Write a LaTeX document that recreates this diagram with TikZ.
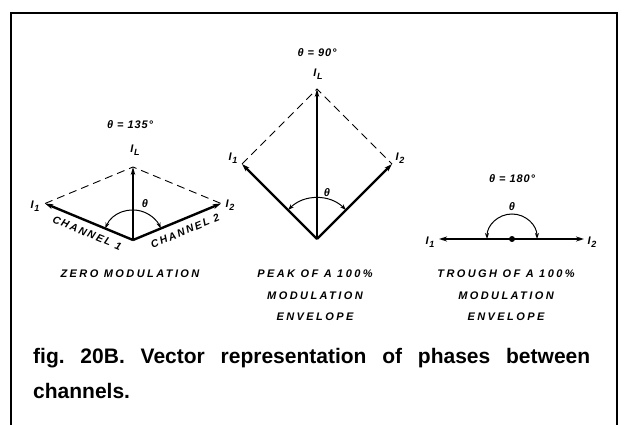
\documentclass[tikz,border=0pt]{standalone}
\usepackage{fontspec}
\setmainfont{Liberation Sans}
\newfontfamily\lett[LetterSpace=8]{Liberation Sans}
\newfontfamily\lettwide[LetterSpace=18]{Liberation Sans}
\newfontfamily\lettcap[LetterSpace=22]{Liberation Sans}
\usetikzlibrary{arrows.meta,calc}
\newcommand\Isub[1]{\textit{I}\kern0.6pt\raisebox{-3pt}{\fontsize{9}{9}\selectfont\textit{#1}}}
\begin{document}
\frenchspacing
\begin{tikzpicture}[x=1pt,y=-1pt,
  vec/.style={line width=2.4pt,-{Stealth[length=8pt,width=5pt]}},
  res/.style={line width=1.2pt,-{Stealth[length=8pt,width=4.5pt]}},
  par/.style={line width=0.9pt,dash pattern=on 8pt off 5pt},
  ang/.style={line width=1pt,{Stealth[length=6pt,width=4pt]}-{Stealth[length=6pt,width=4pt]}},
  lab/.style={font=\lett\bfseries\itshape\fontsize{11}{11}\selectfont, inner sep=0pt},
  chan/.style={font=\lettwide\bfseries\itshape\fontsize{10.5}{10.5}\selectfont, inner sep=0pt},
  captxt/.style={font=\lettcap\bfseries\itshape\fontsize{11}{21.5}\selectfont, align=center, inner sep=0pt},
  dotmark/.style={circle,fill=black,inner sep=0pt,minimum size=6pt},
]
\useasboundingbox (0,0) rectangle (626,425);
% frame
\draw[line width=1.3pt] (11,425) -- (11,13) -- (617,13) -- (617,425);

% ---------- diagram 1: theta = 135 ----------
\coordinate (o1) at (133,240);
\coordinate (a1) at (45,203.5);
\coordinate (b1) at (221,203.5);
\coordinate (l1) at (133,167);
\draw[par] (a1) -- (l1) -- (b1);
\draw[vec] (o1) -- (a1);
\draw[vec] (o1) -- (b1);
\draw[res] (o1) -- (l1);
\draw[ang] ($(o1)+(157.5:30pt)$) arc[start angle=157.5,end angle=22.5,radius=30pt];
\node[lab] (t1) at (130,125) {θ = 135°};
\node[lab] (il1) at (135,150) {\Isub{L}};
\node[lab] (i11) at (35,206) {\Isub{1}};
\node[lab] (i21) at (230,205) {\Isub{2}};
\node[lab] (th1) at (145,204) {θ};
\node[chan,rotate=-22.5] (ch1) at (87,233) {CHANNEL 1};
\node[chan,rotate=22.5] (ch2) at (185,231) {CHANNEL 2};
\node[captxt,anchor=north] (c1) at (130,270) {ZERO MODULATION};

% ---------- diagram 2: theta = 90 ----------
\coordinate (o2) at (317,239);
\coordinate (a2) at (242,164);
\coordinate (b2) at (392,164);
\coordinate (l2) at (317,89);
\draw[par] (a2) -- (l2) -- (b2);
\draw[vec] (o2) -- (a2);
\draw[vec] (o2) -- (b2);
\draw[res] (o2) -- (l2);
\draw[ang] ($(o2)+(135:41pt)$) arc[start angle=135,end angle=45,radius=41pt];
\node[lab] (t2) at (317,53) {θ = 90°};
\node[lab] (il2) at (318,74) {\Isub{L}};
\node[lab] (i12) at (233,158) {\Isub{1}};
\node[lab] (i22) at (400,158) {\Isub{2}};
\node[lab] (th2) at (327,193) {θ};
\node[captxt,anchor=north] (c2) at (315,270) {PEAK OF A 100\%\\MODULATION\\ENVELOPE};

% ---------- diagram 3: theta = 180 ----------
\coordinate (o3) at (512,239);
\coordinate (a3) at (439,239);
\coordinate (b3) at (584,239);
\draw[vec] (o3) -- (a3);
\draw[vec] (o3) -- (b3);
\node[dotmark] (d3) at (o3) {};
\draw[ang] ($(o3)+(180:25pt)$) arc[start angle=180,end angle=0,radius=25pt];
\node[lab] (t3) at (512,179) {θ = 180°};
\node[lab] (th3) at (512,207) {θ};
\node[lab] (i13) at (430,242) {\Isub{1}};
\node[lab] (i23) at (592,242) {\Isub{2}};
\node[captxt,anchor=north] (c3) at (506,270) {TROUGH OF A 100\%\\MODULATION\\ENVELOPE};

% ---------- title ----------
\node[anchor=north west,inner sep=0pt,text width=557pt,align=justify,
      font=\bfseries\fontsize{21}{35}\selectfont] (title) at (33,348)
  {fig. 20B. Vector representation of phases between\linebreak channels.};
\end{tikzpicture}
\end{document}
